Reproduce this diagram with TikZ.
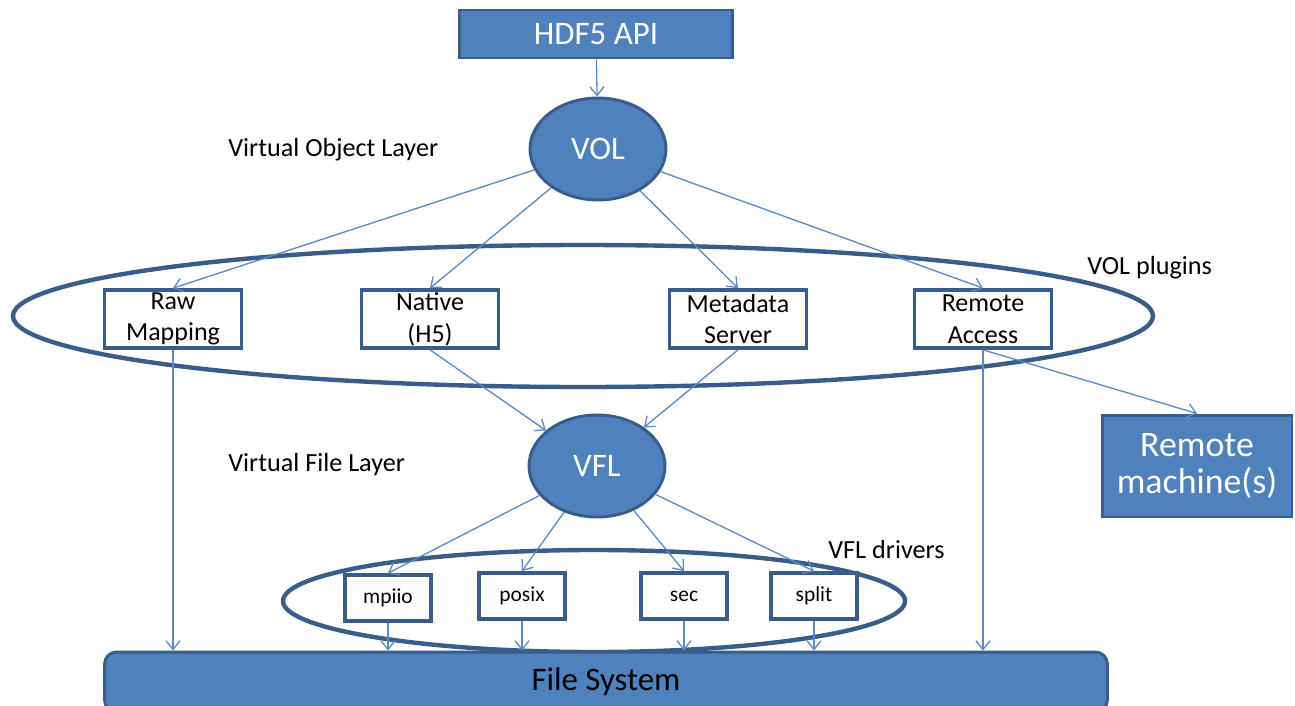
\documentclass[tikz,border=0pt]{standalone}
\usepackage{fontspec}
\setmainfont{Carlito}
\usetikzlibrary{shapes.geometric, arrows.meta}
\definecolor{boxblue}{HTML}{4F81BD}
\definecolor{edgeblue}{HTML}{385D8A}
\definecolor{lineblue}{HTML}{5A8AC6}

\begin{document}
\begin{tikzpicture}[x = 0.02cm, y = -0.02cm,
	solidbox/.style = {draw = edgeblue, line width = 1.7pt, fill = boxblue, text = white, inner sep = 0pt, align = center},
	plainbox/.style = {draw = edgeblue, line width = 2.1pt, fill = white, inner sep = 0pt, align = center},
	layer/.style = {solidbox, ellipse, minimum width = 2.72cm, minimum height = 2.04cm, font = \fontsize{18.7}{22}\selectfont},
	plugin/.style = {plainbox, minimum width = 2.74cm, minimum height = 1.16cm, font = \fontsize{14.8}{18}\selectfont},
	driver/.style = {plainbox, minimum width = 1.72cm, minimum height = 0.92cm, font = \fontsize{12.2}{15}\selectfont},
	caption/.style = {anchor = west, inner sep = 0pt, font = \fontsize{14.9}{18}\selectfont},
	link/.style = {draw = lineblue, line width = 0.75pt, -{Straight Barb[length = 5pt, width = 8pt]}},
	group/.style = {draw = edgeblue, line width = 2.5pt}]
	\useasboundingbox (0, 0) rectangle (1295, 706);
	\draw[group] (583, 316) ellipse [x radius = 570, y radius = 71];
	\draw[group] (594, 601) ellipse [x radius = 311, y radius = 51];
	\node[solidbox, minimum width = 5.48cm, minimum height = 0.96cm, font = \fontsize{18.7}{22}\selectfont] (hdf) at (596, 34) {HDF5 API};
	\node[layer] (vol) at (598, 149) {VOL};
	\node[layer] (vfl) at (597, 466) {VFL};
	\node[caption] (objlabel) at (228, 150) {Virtual Object Layer};
	\node[caption] (filelabel) at (228, 465) {Virtual File Layer};
	\node[caption] (pluglabel) at (1087, 268) {VOL plugins};
	\node[caption] (drvlabel) at (828, 550) {VFL drivers};
	\node[plugin] (raw) at (173, 319) {Raw\\Mapping};
	\node[plugin] (native) at (430, 319) {Native\\(H5)};
	\node[plugin] (meta) at (738, 319) {Metadata\\Server};
	\node[plugin] (remote) at (983, 319) {Remote\\Access};
	\node[solidbox, minimum width = 3.8cm, minimum height = 2.04cm, font = \fontsize{20.4}{21}\selectfont] (machine) at (1197, 466) {Remote\\machine(s)};
	\node[driver] (mpiio) at (388, 598) {mpiio};
	\node[driver] (posix) at (522, 596) {posix};
	\node[driver] (sec) at (684, 596) {sec};
	\node[driver] (split) at (814, 596) {split};
	\node[solidbox, rounded corners = 0.24cm, text = black, minimum width = 20.06cm, minimum height = 1.2cm, font = \fontsize{18.7}{22}\selectfont] (fs) at (606, 682) {File System};
	\draw[link] (hdf) -- (vol);
	\foreach \p in {raw, native, meta, remote}
	{
		\draw[link] (vol) -- (\p.north);
	}
	\foreach \p in {native, meta}
	{
		\draw[link] (\p.south) -- (vfl);
	}
	\draw[link] (remote.south) -- (machine.north);
	\foreach \p in {raw, remote}
	{
		\draw[link] (\p.south) -- (\p.south |- fs.north);
	}
	\foreach \d in {mpiio, posix, sec, split}
	{
		\draw[link] (vfl) -- (\d.north);
		\draw[link] (\d.south) -- (\d.south |- fs.north);
	}
\end{tikzpicture}
\end{document}
